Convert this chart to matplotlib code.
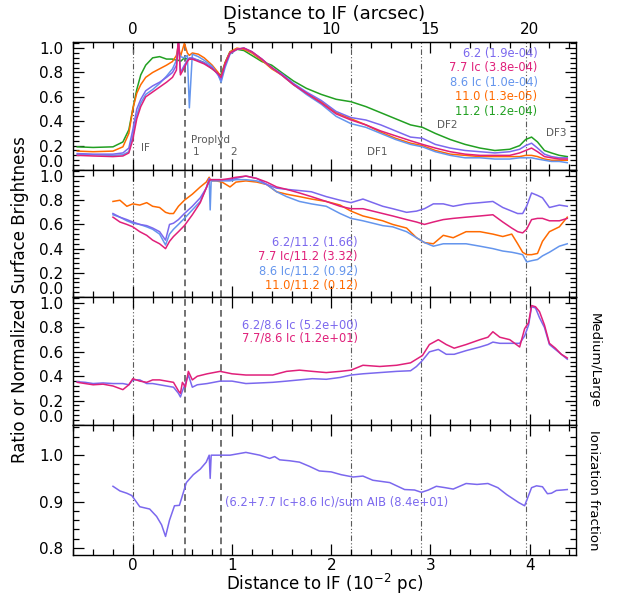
import numpy as np
import matplotlib
matplotlib.use("Agg")
import matplotlib.pyplot as plt
from matplotlib.ticker import MultipleLocator, FixedLocator, FormatStrFormatter

plt.rcParams['font.family'] = ['DejaVu Sans']

# ---------------- data (distance to IF in 1e-2 pc) ----------------
# panel 1: normalized surface brightness
x_sb = [-0.56, -0.4, -0.2, -0.1, -0.04, 0.0, 0.04, 0.08, 0.13, 0.2, 0.27, 0.34, 0.40, 0.44,
        0.46, 0.48, 0.52, 0.55, 0.57, 0.6, 0.66, 0.72, 0.8, 0.86, 0.89, 0.93, 0.98, 1.05,
        1.12, 1.2, 1.3, 1.4, 1.5, 1.62, 1.75, 1.9, 2.05, 2.2, 2.35, 2.5, 2.65, 2.8, 2.92,
        3.05, 3.2, 3.35, 3.5, 3.65, 3.8, 3.9, 3.96, 4.02, 4.08, 4.15, 4.22, 4.3, 4.38]
sb_62 = [0.135, 0.13, 0.13, 0.14, 0.18, 0.33, 0.50, 0.58, 0.65, 0.69, 0.72, 0.76, 0.80, 0.86,
         1.08, 0.80, 0.86, 0.90, 0.92, 0.92, 0.90, 0.88, 0.84, 0.78, 0.74, 0.86, 0.96, 0.99,
         1.0, 0.97, 0.91, 0.84, 0.79, 0.71, 0.64, 0.57, 0.48, 0.43, 0.41, 0.37, 0.32, 0.27,
         0.26, 0.21, 0.18, 0.16, 0.15, 0.14, 0.15, 0.17, 0.20, 0.22, 0.18, 0.13, 0.11, 0.10, 0.10]
sb_77 = [0.12, 0.115, 0.11, 0.115, 0.14, 0.25, 0.42, 0.52, 0.60, 0.64, 0.68, 0.72, 0.76, 0.82,
         1.1, 0.78, 0.84, 0.89, 0.91, 0.91, 0.89, 0.87, 0.83, 0.79, 0.76, 0.87, 0.96, 0.99,
         1.0, 0.97, 0.91, 0.84, 0.78, 0.70, 0.63, 0.55, 0.46, 0.41, 0.37, 0.32, 0.28, 0.24,
         0.21, 0.18, 0.15, 0.13, 0.12, 0.12, 0.12, 0.14, 0.16, 0.18, 0.15, 0.11, 0.10, 0.09, 0.09]
sb_86 = [0.13, 0.125, 0.12, 0.125, 0.15, 0.28, 0.45, 0.55, 0.62, 0.66, 0.71, 0.77, 0.83, 0.90,
         0.98, 0.93, 0.92, 0.94, 0.51, 0.95, 0.93, 0.90, 0.85, 0.78, 0.72, 0.84, 0.95, 0.99,
         1.0, 0.97, 0.91, 0.84, 0.78, 0.70, 0.62, 0.54, 0.44, 0.38, 0.35, 0.30, 0.25, 0.21,
         0.19, 0.15, 0.12, 0.10, 0.10, 0.09, 0.09, 0.10, 0.10, 0.10, 0.09, 0.08, 0.07, 0.07, 0.06]
sb_110 = [0.155, 0.15, 0.155, 0.19, 0.30, 0.50, 0.63, 0.70, 0.76, 0.80, 0.83, 0.86, 0.89, 0.94,
          1.03, 0.93, 1.04, 0.96, 0.94, 0.96, 0.95, 0.92, 0.86, 0.80, 0.76, 0.88, 0.97, 1.0,
          0.99, 0.96, 0.90, 0.83, 0.78, 0.70, 0.63, 0.56, 0.47, 0.42, 0.37, 0.31, 0.26, 0.22,
          0.20, 0.16, 0.13, 0.12, 0.11, 0.11, 0.11, 0.11, 0.12, 0.12, 0.11, 0.09, 0.08, 0.08, 0.08]
sb_112 = [0.19, 0.185, 0.19, 0.23, 0.33, 0.50, 0.66, 0.78, 0.86, 0.92, 0.93, 0.91, 0.91, 0.90,
          0.90, 0.89, 0.92, 0.91, 0.91, 0.91, 0.90, 0.88, 0.83, 0.79, 0.78, 0.88, 0.97, 0.99,
          0.98, 0.94, 0.89, 0.86, 0.80, 0.73, 0.67, 0.62, 0.58, 0.56, 0.52, 0.47, 0.42, 0.37,
          0.35, 0.30, 0.25, 0.21, 0.18, 0.16, 0.17, 0.20, 0.25, 0.27, 0.23, 0.16, 0.14, 0.12, 0.11]
sb_labels = ['6.2 (1.9e-04)', '7.7 Ic (3.8e-04)', '8.6 Ic (1.0e-04)', '11.0 (1.3e-05)', '11.2 (1.2e-04)']

# panel 2: band / 11.2 ratios (normalized)
x_r112 = [-0.2, -0.13, -0.06, 0.0, 0.07, 0.14, 0.2, 0.27, 0.33, 0.37, 0.41, 0.46, 0.52, 0.6,
          0.68, 0.74, 0.77, 0.78, 0.79, 0.84, 0.9, 0.98, 1.04, 1.14, 1.25, 1.35, 1.45, 1.55,
          1.68, 1.8, 1.95, 2.09, 2.2, 2.32, 2.42, 2.52, 2.62, 2.76, 2.86, 2.94, 3.03, 3.13,
          3.23, 3.36, 3.5, 3.63, 3.73, 3.82, 3.88, 3.93, 3.97, 4.02, 4.08, 4.13, 4.2, 4.3, 4.38]
r_62_112 = [0.69, 0.66, 0.64, 0.62, 0.60, 0.59, 0.57, 0.54, 0.47, 0.60, 0.61, 0.64, 0.69, 0.75,
            0.82, 0.90, 0.98, 0.97, 0.97, 0.97, 0.97, 0.97, 0.98, 1.0, 0.98, 0.93, 0.90, 0.89,
            0.88, 0.87, 0.83, 0.80, 0.78, 0.81, 0.78, 0.75, 0.73, 0.70, 0.71, 0.73, 0.77, 0.77,
            0.75, 0.77, 0.78, 0.79, 0.74, 0.71, 0.69, 0.69, 0.75, 0.86, 0.84, 0.82, 0.74, 0.76, 0.75]
r_77_112 = [0.66, 0.62, 0.60, 0.58, 0.54, 0.51, 0.47, 0.44, 0.40, 0.46, 0.50, 0.54, 0.59, 0.68,
            0.78, 0.90, 0.96, 0.97, 0.97, 0.97, 0.97, 0.98, 0.99, 1.0, 0.98, 0.95, 0.91, 0.89,
            0.86, 0.83, 0.79, 0.75, 0.73, 0.73, 0.71, 0.69, 0.67, 0.64, 0.62, 0.60, 0.62, 0.64,
            0.65, 0.66, 0.67, 0.68, 0.62, 0.57, 0.54, 0.53, 0.56, 0.64, 0.65, 0.65, 0.63, 0.63, 0.65]
r_86_112 = [0.68, 0.66, 0.63, 0.61, 0.60, 0.58, 0.56, 0.52, 0.43, 0.52, 0.56, 0.60, 0.65, 0.72,
            0.79, 0.90, 0.97, 0.72, 0.96, 0.96, 0.96, 0.96, 0.97, 0.97, 0.96, 0.93, 0.87, 0.83,
            0.79, 0.77, 0.75, 0.69, 0.65, 0.63, 0.61, 0.59, 0.58, 0.54, 0.49, 0.45, 0.42, 0.44,
            0.44, 0.44, 0.42, 0.40, 0.38, 0.37, 0.36, 0.35, 0.29, 0.30, 0.31, 0.34, 0.37, 0.42, 0.44]
r_110_112 = [0.79, 0.80, 0.75, 0.77, 0.76, 0.78, 0.75, 0.74, 0.70, 0.69, 0.69, 0.75, 0.80, 0.85,
             0.91, 0.95, 0.99, 0.97, 0.96, 0.96, 0.95, 0.91, 0.95, 0.96, 0.95, 0.93, 0.87, 0.85,
             0.83, 0.81, 0.79, 0.76, 0.71, 0.67, 0.65, 0.63, 0.60, 0.57, 0.49, 0.45, 0.44, 0.51,
             0.49, 0.54, 0.54, 0.52, 0.50, 0.52, 0.44, 0.37, 0.35, 0.35, 0.36, 0.46, 0.54, 0.58, 0.66]
r112_labels = ['6.2/11.2 (1.66)', '7.7 Ic/11.2 (3.32)', '8.6 Ic/11.2 (0.92)', '11.0/11.2 (0.12)']

# panel 3: medium / large
x_ml = [-0.56, -0.48, -0.4, -0.3, -0.2, -0.1, -0.04, 0.0, 0.07, 0.14, 0.2, 0.27, 0.34, 0.41,
        0.46, 0.48, 0.5, 0.53, 0.56, 0.6, 0.65, 0.75, 0.88, 1.0, 1.14, 1.28, 1.41, 1.55, 1.68,
        1.81, 1.95, 2.09, 2.2, 2.32, 2.49, 2.66, 2.8, 2.86, 2.92, 2.99, 3.08, 3.16, 3.24, 3.36,
        3.5, 3.58, 3.63, 3.7, 3.8, 3.9, 3.95, 3.99, 4.02, 4.06, 4.1, 4.15, 4.2, 4.26, 4.32, 4.38]
ml_62 = [0.355, 0.35, 0.34, 0.345, 0.34, 0.34, 0.33, 0.37, 0.37, 0.34, 0.34, 0.33, 0.32, 0.31,
         0.26, 0.23, 0.28, 0.34, 0.41, 0.31, 0.33, 0.34, 0.36, 0.36, 0.34, 0.345, 0.35, 0.36, 0.37,
         0.38, 0.375, 0.39, 0.41, 0.42, 0.43, 0.44, 0.445, 0.48, 0.53, 0.60, 0.62, 0.58, 0.58, 0.61,
         0.64, 0.66, 0.68, 0.67, 0.67, 0.67, 0.73, 0.82, 0.97, 0.96, 0.88, 0.80, 0.66, 0.62, 0.58, 0.54]
ml_77 = [0.35, 0.34, 0.33, 0.335, 0.32, 0.29, 0.33, 0.38, 0.36, 0.35, 0.37, 0.37, 0.36, 0.35,
         0.28, 0.26, 0.35, 0.31, 0.44, 0.37, 0.40, 0.42, 0.44, 0.42, 0.41, 0.41, 0.41, 0.44, 0.45,
         0.44, 0.43, 0.44, 0.45, 0.49, 0.48, 0.49, 0.51, 0.54, 0.57, 0.66, 0.70, 0.66, 0.63, 0.66,
         0.70, 0.72, 0.765, 0.72, 0.70, 0.64, 0.79, 0.84, 0.98, 0.97, 0.93, 0.82, 0.67, 0.63, 0.58, 0.55]
ml_labels = ['6.2/8.6 Ic (5.2e+00)', '7.7/8.6 Ic (1.2e+01)']

# panel 4: ionization fraction
x_ion = [-0.2, -0.13, -0.06, -0.01, 0.07, 0.17, 0.24, 0.29, 0.33, 0.37, 0.42, 0.47, 0.54, 0.61,
         0.68, 0.74, 0.77, 0.78, 0.79, 0.84, 0.98, 1.14, 1.28, 1.38, 1.43, 1.48, 1.58, 1.68,
         1.78, 1.88, 2.0, 2.1, 2.22, 2.32, 2.42, 2.59, 2.74, 2.84, 2.91, 2.98, 3.06, 3.15, 3.23,
         3.36, 3.47, 3.58, 3.68, 3.77, 3.89, 3.95, 4.02, 4.07, 4.13, 4.18, 4.22, 4.27, 4.33, 4.38]
ion = [0.933, 0.923, 0.918, 0.913, 0.889, 0.884, 0.868, 0.85, 0.825, 0.86, 0.891, 0.892, 0.941,
       0.958, 0.970, 0.985, 1.0, 0.95, 1.0, 1.0, 1.0, 1.006, 1.0, 0.993, 0.997, 0.99, 0.988,
       0.985, 0.976, 0.966, 0.964, 0.958, 0.953, 0.955, 0.946, 0.941, 0.926, 0.925, 0.920, 0.925,
       0.933, 0.930, 0.927, 0.939, 0.937, 0.939, 0.930, 0.915, 0.898, 0.891, 0.930, 0.934, 0.932,
       0.917, 0.918, 0.924, 0.925, 0.926]
ion_label = '(6.2+7.7 Ic+8.6 Ic)/sum AIB (8.4e+01)'

# region markers
dashdot_x = [0.0, 2.2, 2.91, 3.96]
dashed_x = [0.524, 0.887]

c62, c77, c86, c110, c112 = '#7b68ee', '#e0207a', '#6495ed', '#ff6a00', '#22a022'
gray = '#5a5a5a'

# ---------------- figure ----------------
W, H = 622, 598
fig = plt.figure(figsize=(W / 100, H / 100), dpi=100)
left, right = 73, 576
edges = [42, 170, 297, 425, 555]
axes = []
for i in range(4):
    ax = fig.add_axes([left / W, 1 - edges[i + 1] / H, (right - left) / W,
                       (edges[i + 1] - edges[i]) / H])
    axes.append(ax)

xlim = (-0.603, 4.468)
for i, ax in enumerate(axes):
    ax.set_xlim(*xlim)
    ax.xaxis.set_major_locator(MultipleLocator(1))
    ax.xaxis.set_minor_locator(MultipleLocator(0.2))
    ax.tick_params(which='both', direction='in', top=(i > 0), right=True,
                   labelsize=11, width=0.9)
    ax.tick_params(axis='y', pad=7)
    ax.tick_params(axis='x', pad=2)
    ax.tick_params(which='major', length=8)
    ax.tick_params(which='minor', length=4)
    if i < 3:
        ax.tick_params(labelbottom=False)
    for s in ax.spines.values():
        s.set_linewidth(1.0)
    for xv in dashdot_x:
        ax.axvline(xv, color=gray, lw=0.8, ls=(0, (5, 2, 1, 2, 1, 2)), zorder=1)
    for xv in dashed_x:
        ax.axvline(xv, color=gray, lw=1.2, ls=(0, (4, 2.5)), zorder=1)

for ax in axes[:3]:
    ax.set_ylim(0, 1.05)
    ax.yaxis.set_major_locator(FixedLocator([0.0, 0.2, 0.4, 0.6, 0.8, 1.0]))
    ax.yaxis.set_minor_locator(MultipleLocator(0.04))
    ax.yaxis.set_major_formatter(FormatStrFormatter('%.1f'))

ax4 = axes[3]
ax4.set_ylim(0.785, 1.065)
ax4.yaxis.set_major_locator(FixedLocator([0.8, 0.9, 1.0]))
ax4.yaxis.set_minor_locator(MultipleLocator(0.02))
ax4.yaxis.set_major_formatter(FormatStrFormatter('%.1f'))

lw = 1.1
ann = dict(fontsize=8.3)
reg = dict(fontsize=7.5)

# panel 1
ax1 = axes[0]
for y, c in zip([sb_112, sb_110, sb_86, sb_62, sb_77], [c112, c110, c86, c62, c77]):
    ax1.plot(x_sb, y, color=c, lw=lw)
for k, (lab, c) in enumerate(zip(sb_labels, [c62, c77, c86, c110, c112])):
    ax1.text(4.08, 0.955 - 0.118 * k, lab, color=c, ha='right', va='center', **ann)
for t, xx, yy in [('IF', 0.13, 0.18), ('Proplyd', 0.78, 0.25), ('1', 0.64, 0.15),
                  ('2', 1.02, 0.15), ('DF1', 2.46, 0.15), ('DF2', 3.17, 0.37),
                  ('DF3', 4.27, 0.30)]:
    ax1.text(xx, yy, t, color=gray, ha='center', va='center', **reg)
top = ax1.secondary_xaxis('top', functions=(lambda v: v * 5, lambda v: v / 5))
top.xaxis.set_major_locator(FixedLocator([0, 5, 10, 15, 20]))
top.xaxis.set_minor_locator(FixedLocator(np.arange(-3, 23, 1)))
top.tick_params(which='both', direction='in', labelsize=11, width=0.9)
top.tick_params(which='major', length=8)
top.tick_params(which='minor', length=4)
top.set_xlabel('Distance to IF (arcsec)', fontsize=13, labelpad=2)

# panel 2
ax2 = axes[1]
for y, c in zip([r_110_112, r_86_112, r_62_112, r_77_112], [c110, c86, c62, c77]):
    ax2.plot(x_r112, y, color=c, lw=lw)
for k, (lab, c) in enumerate(zip(r112_labels, [c62, c77, c86, c110])):
    ax2.text(2.27, 0.452 - 0.117 * k, lab, color=c, ha='right', va='center', **ann)

# panel 3
ax3 = axes[2]
ax3.plot(x_ml, ml_62, color=c62, lw=lw)
ax3.plot(x_ml, ml_77, color=c77, lw=lw)
for k, (lab, c) in enumerate(zip(ml_labels, [c62, c77])):
    ax3.text(2.27, 0.82 - 0.11 * k, lab, color=c, ha='right', va='center', **ann)

# panel 4
ax4.plot(x_ion, ion, color=c62, lw=lw)
ax4.text(0.93, 0.899, ion_label, color=c62, ha='left', va='center', **ann)

fig.text((left + right) / 2 / W, 1 - 584 / H, 'Distance to IF (10$^{-2}$ pc)',
         ha='center', va='center', fontsize=12)
fig.text(20 / W, 1 - 300 / H, 'Ratio or Normalized Surface Brightness', rotation=90,
         ha='center', va='center', fontsize=12)
fig.text(594 / W, 1 - 361 / H, 'Medium/Large', rotation=-90, ha='center', va='center',
         fontsize=9.5)
fig.text(594 / W, 1 - 490 / H, 'Ionization fraction', rotation=-90, ha='center',
         va='center', fontsize=9.5)

# lift the bottom "0.0" label so it sits above the next panel's "1.0"
fig.canvas.draw()
for ax in axes[:3]:
    ax.yaxis.get_major_ticks()[0].label1.set_va('bottom')

fig.savefig('out.png', dpi=100)
